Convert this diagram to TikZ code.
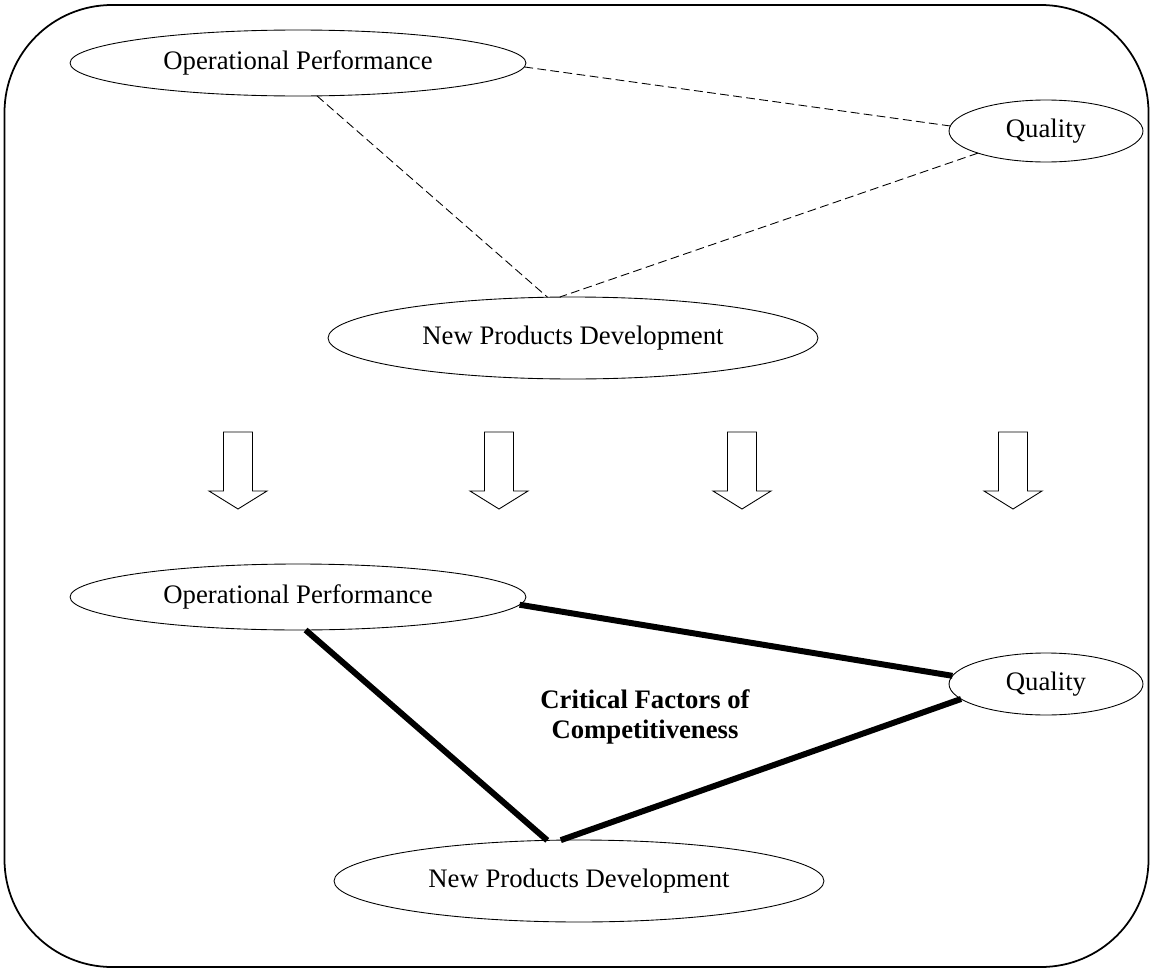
\documentclass[tikz,border=0pt]{standalone}
\usepackage{fontspec}
\setmainfont{Liberation Serif}
\usetikzlibrary{shapes.geometric}

\tikzset{
  factor/.style={draw, ellipse, line width=0.5pt, inner sep=0pt, outer sep=0pt, font=\fontsize{15.2}{17.5}\selectfont},
  opnode/.style={factor, minimum width=9.12cm, minimum height=1.32cm},
  qnode/.style={factor, minimum width=3.88cm, minimum height=1.24cm},
  npnode/.style={factor, minimum width=9.8cm, minimum height=1.64cm},
  weak/.style={line width=0.5pt, dash pattern=on 5pt off 2.5pt},
  strong/.style={line width=3.4pt},
}

\begin{document}
\begin{tikzpicture}[x=0.02cm,y=-0.02cm]
            \useasboundingbox (0,0) rectangle (1150,970);
            \draw[line width=1pt, rounded corners=2.15cm] (4.5,5) rectangle (1148.5,967);
            % before
            \node[opnode] (op1) at (298,63) {Operational Performance};
            \node[qnode] (q1) at (1046,131) {Quality};
            \node[npnode] (np1) at (573,338) {New Products Development};
            \draw[weak] (op1.-1) -- (q1.177);
            \draw[weak] (op1.-60) -- (np1.122);
            \draw[weak] (q1.-162) -- (np1.108);
            % arrows
            \foreach \ax in {238,499,742,1013}
                \draw[line width=0.5pt] (\ax-14.5,432) -- (\ax+14.5,432) -- (\ax+14.5,491) -- (\ax+29,491)
                    -- (\ax,509) -- (\ax-29,491) -- (\ax-14.5,491) -- cycle;
            % after
            \node[opnode] (op2) at (298,597) {Operational Performance};
            \node[qnode] (q2) at (1046,684) {Quality};
            \node[npnode] (np2) at (579,881) {New Products Development};
            \node[align=center, font=\fontsize{15.2}{17.5}\selectfont\bfseries] (cfc) at (645,717) {Critical Factors of\\Competitiveness};
            \draw[strong] (op2.-2.3) -- (q2.175);
            \draw[strong] (op2.-77) -- (np2.128);
            \draw[strong] (q2.-170) -- (np2.114);
\end{tikzpicture}
\end{document}
